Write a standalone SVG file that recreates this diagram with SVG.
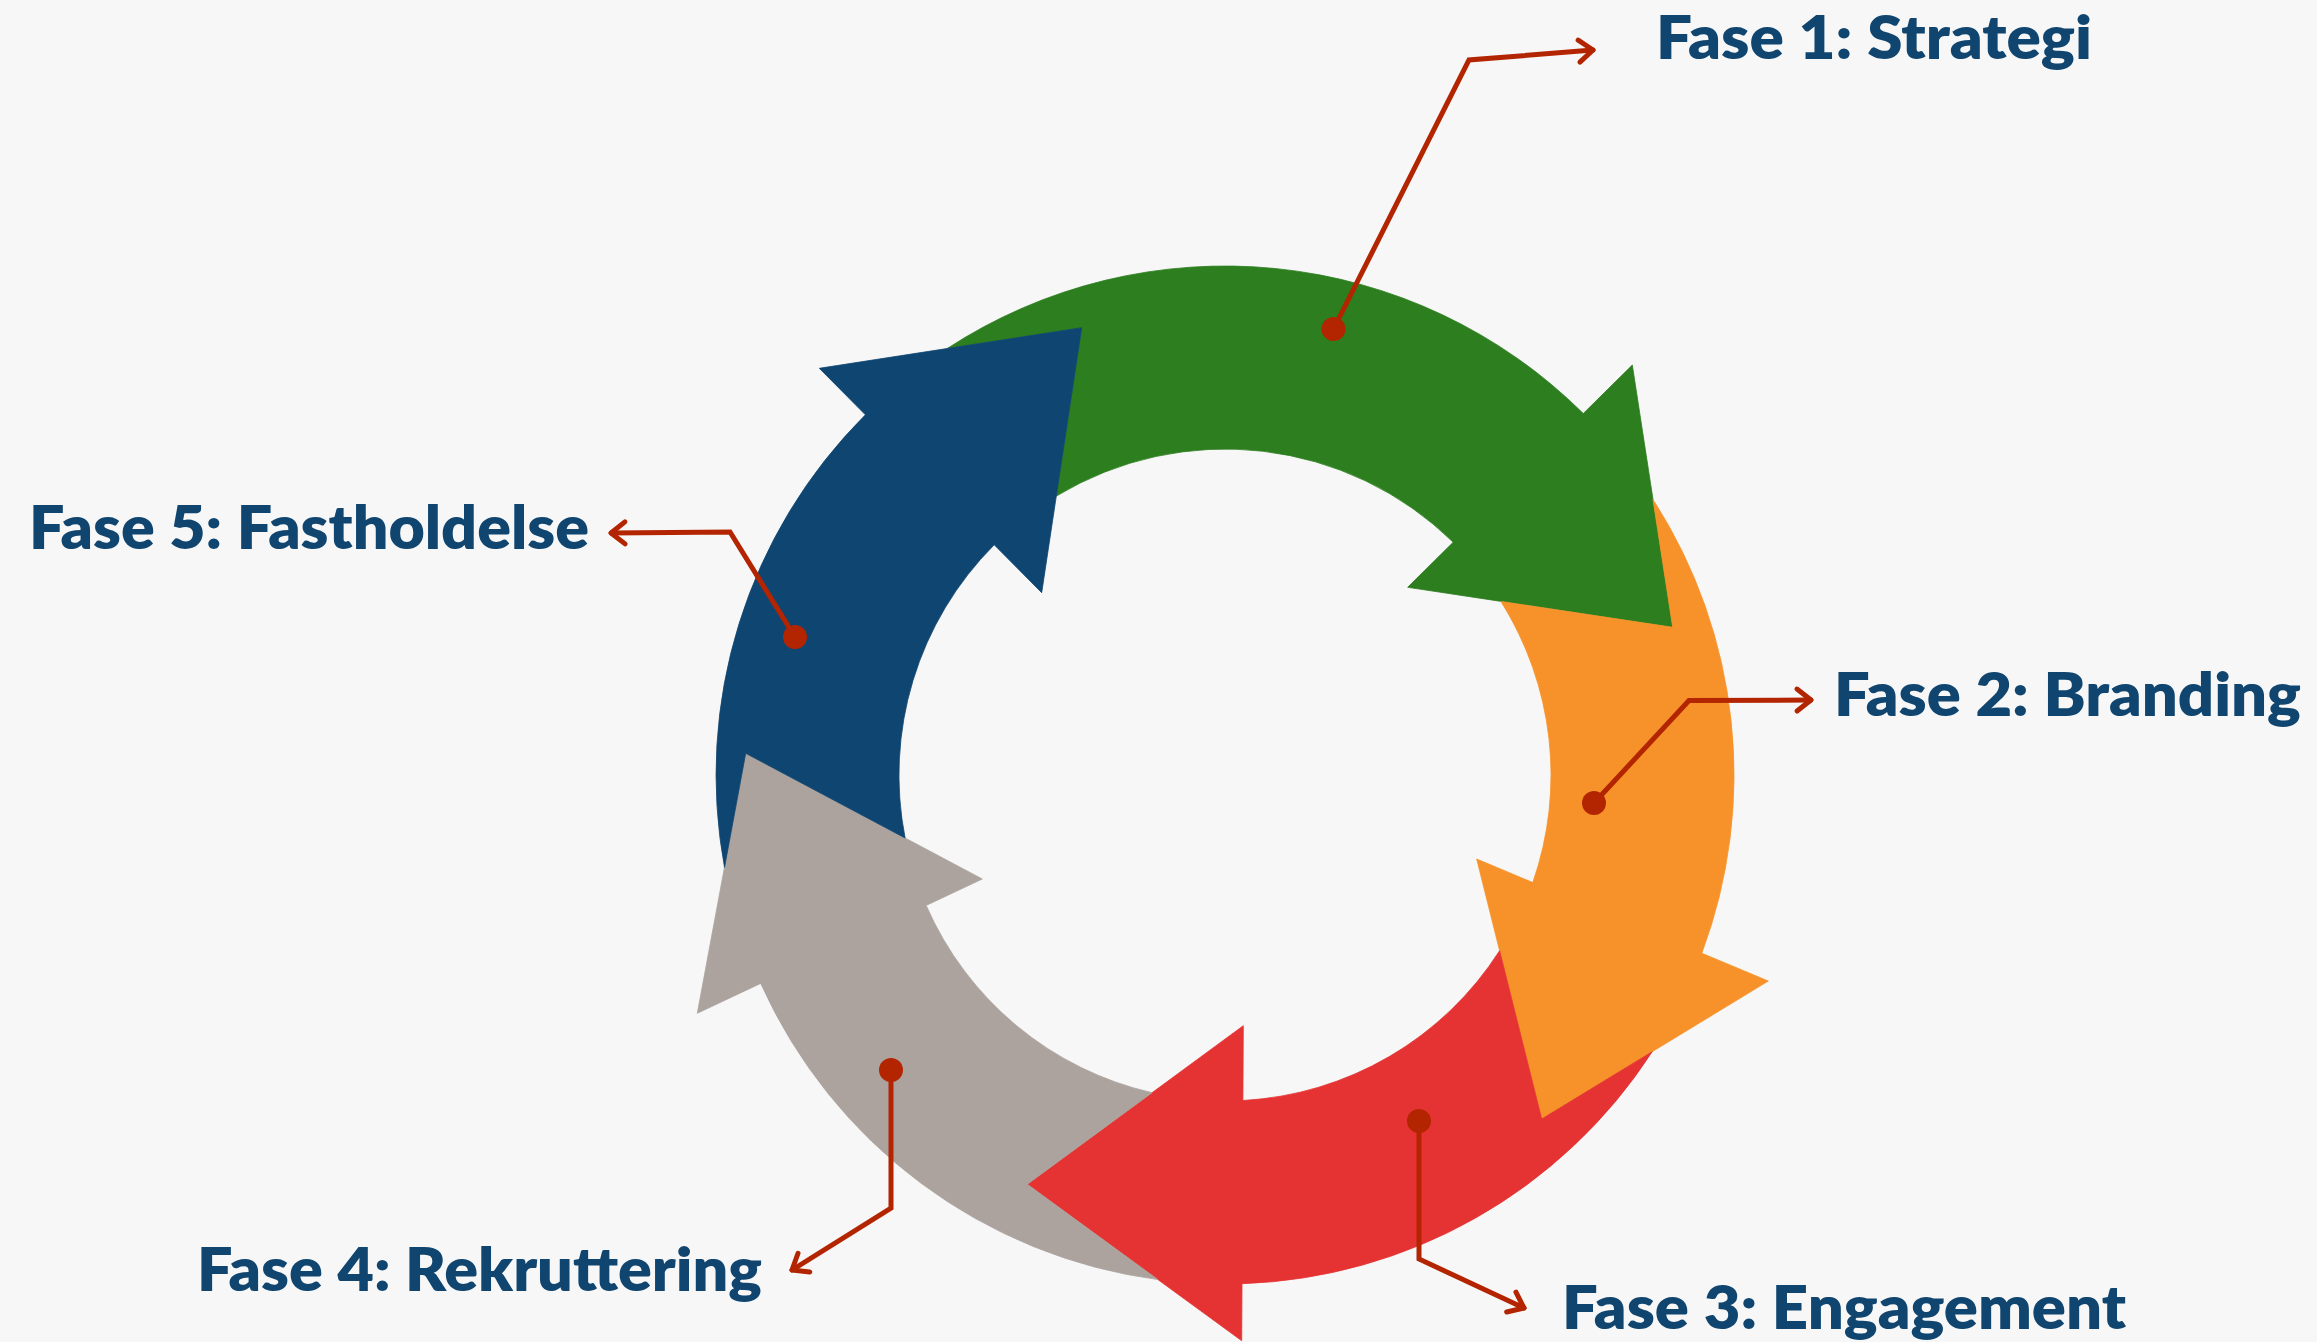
<svg xmlns="http://www.w3.org/2000/svg" width="2317" height="1342" viewBox="0 0 2317 1342">
  <style>
    .lbl { font-family: Lato, "Liberation Sans", "DejaVu Sans", sans-serif; font-weight: 800; font-size: 60px; fill: #10456F; }
    .callout { fill: none; stroke: #B32501; stroke-width: 5; stroke-linecap: round; stroke-linejoin: miter; marker-end: url(#chev); }
    .dot { fill: #B32501; }
    .arr { stroke-width: 0.8; stroke-linejoin: miter; }
    .green { fill: #2C7E1F; stroke: #2C7E1F; }
    .orange { fill: #F7922A; stroke: #F7922A; }
    .red { fill: #E53232; stroke: #E53232; }
    .grey { fill: #ACA39E; stroke: #ACA39E; }
    .blue { fill: #0F4571; stroke: #0F4571; }
  </style>
  <defs>
    <marker id="chev" markerUnits="userSpaceOnUse" viewBox="-20 -20 40 40" markerWidth="40" markerHeight="40" refX="0" refY="0" orient="auto" overflow="visible">
      <path d="M-14,-11 L0,0 L-14,11" fill="none" stroke="#B32501" stroke-width="5" stroke-linecap="round" stroke-linejoin="round"/>
    </marker>
  </defs>
  <rect x="0" y="0" width="2317" height="1342" fill="#F7F7F7"/>

  <g id="phase-1-strategi">
    <path class="arr green" d="M947.2,348.5 A509,509 0 0 1 1583.3,413.5 L1632.3,365 L1672.7,627.3 L1407.7,587.3 L1453.2,542.2 A326,326 0 0 0 1056.3,496.1 L1081.7,327.7 Z"/>
    <text class="lbl" x="1656" y="59" textLength="436" lengthAdjust="spacingAndGlyphs">Fase 1: Strategi</text>
  </g>
  <g id="phase-2-branding">
    <path class="arr orange" d="M1653.0,499.5 A509,509 0 0 1 1701.8,953.2 L1768.3,981 L1541.7,1119 L1476.7,859 L1532.8,882.5 A326,326 0 0 0 1500.9,601.4 L1672.7,627.3 Z"/>
    <text class="lbl" x="1834" y="716" textLength="467" lengthAdjust="spacingAndGlyphs">Fase 2: Branding</text>
  </g>
  <g id="phase-3-engagement">
    <path class="arr red" d="M1652.2,1051.7 A509,509 0 0 1 1242.0,1283.7 L1241.7,1340.7 L1027.3,1184.3 L1243.3,1025.7 L1242.9,1100.5 A326,326 0 0 0 1499.6,950.7 L1541.7,1119 Z"/>
    <text class="lbl" x="1562" y="1329" textLength="564" lengthAdjust="spacingAndGlyphs">Fase 3: Engagement</text>
  </g>
  <g id="phase-4-rekruttering">
    <path class="arr grey" d="M1157.9,1279.6 A509,509 0 0 1 760.7,983.4 L697.3,1013.3 L745.7,753.3 L982.3,879 L926.2,905.4 A326,326 0 0 0 1152.0,1092.7 L1027.3,1184.3 Z"/>
    <text class="lbl" x="197" y="1291" textLength="565" lengthAdjust="spacingAndGlyphs">Fase 4: Rekruttering</text>
  </g>
  <g id="phase-5-fastholdelse">
    <path class="arr blue" d="M724.5,867.4 A509,509 0 0 1 865.4,414.8 L819.3,368.3 L1081.7,327.7 L1041.7,592.7 L994.2,544.8 A326,326 0 0 0 905.1,838.0 L745.7,753.3 Z"/>
    <text class="lbl" x="29" y="549" textLength="560" lengthAdjust="spacingAndGlyphs">Fase 5: Fastholdelse</text>
  </g>

  <g id="connectors">
    <polyline class="callout" points="1333.5,329 1469,60 1593,50"/>
    <polyline class="callout" points="1594,803 1689,700.5 1811,700"/>
    <polyline class="callout" points="1419,1121 1419,1259 1524,1308"/>
    <polyline class="callout" points="891,1070 891,1208 792,1270"/>
    <polyline class="callout" points="795,637 730,532 611,533"/>
    <circle class="dot" cx="1333.5" cy="329" r="12"/>
    <circle class="dot" cx="1594" cy="803" r="12"/>
    <circle class="dot" cx="1419" cy="1121" r="12"/>
    <circle class="dot" cx="891" cy="1070" r="12"/>
    <circle class="dot" cx="795" cy="637" r="12"/>
  </g>
</svg>
